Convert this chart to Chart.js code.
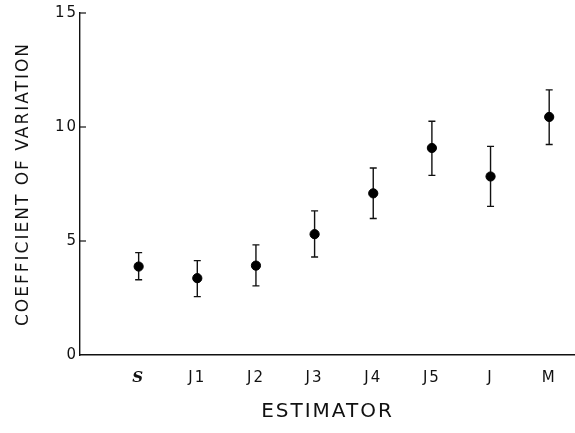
<!DOCTYPE html>
<html>
<head>
<meta charset="utf-8">
<script src="https://cdn.jsdelivr.net/npm/chart.js@4"></script>
<style>
  body { margin: 0; background: #fff; }
  #wrap { width: 575px; height: 433px; }
</style>
</head>
<body>
<div id="wrap"><canvas id="chart" width="575" height="433"></canvas></div>
<script>
// estimators along the x axis
const estimators = ['S', 'J1', 'J2', 'J3', 'J4', 'J5', 'J', 'M'];
// coefficient of variation (dot) and the ends of its bar
const cv    = [3.88, 3.37, 3.92, 5.30, 7.09, 9.08, 7.83, 10.44];
const upper = [4.49, 4.14, 4.83, 6.32, 8.20, 10.25, 9.15, 11.63];
const lower = [3.30, 2.56, 3.03, 4.30, 5.99, 7.88, 6.52, 9.23];
const yTicks = [0, 5, 10, 15];

const points = estimators.map((name, i) => ({ x: i + 1, y: cv[i] }));

// error bars + inward tick marks on the y axis
const extras = {
  id: 'extras',
  beforeDraw(chart) {
    chart.ctx.letterSpacing = '2px';
  },
  beforeDatasetsDraw(chart) {
    const { ctx, scales: { x, y } } = chart;
    ctx.save();
    ctx.strokeStyle = '#111';
    ctx.lineWidth = 1.4;
    estimators.forEach((name, i) => {
      const px = x.getPixelForValue(i + 1);
      const top = y.getPixelForValue(upper[i]);
      const bot = y.getPixelForValue(lower[i]);
      ctx.beginPath();
      ctx.moveTo(px, top); ctx.lineTo(px, bot);
      ctx.moveTo(px - 3.5, top); ctx.lineTo(px + 3.5, top);
      ctx.moveTo(px - 3.5, bot); ctx.lineTo(px + 3.5, bot);
      ctx.stroke();
    });
    ctx.restore();
  },
  afterDraw(chart) {
    const { ctx, scales: { y }, chartArea } = chart;
    ctx.save();
    ctx.strokeStyle = '#111';
    ctx.lineWidth = 1.2;
    yTicks.slice(1).forEach(v => {
      const py = y.getPixelForValue(v);
      ctx.beginPath();
      ctx.moveTo(chartArea.left, py);
      ctx.lineTo(chartArea.left + 6, py);
      ctx.stroke();
    });
    ctx.restore();
    ctx.letterSpacing = '0px';
  }
};

new Chart(document.querySelector('#chart'), {
  type: 'scatter',
  data: {
    datasets: [{
      data: points,
      backgroundColor: '#000',
      borderColor: '#000',
      pointRadius: 4.6,
      pointHoverRadius: 4.6
    }]
  },
  options: {
    responsive: false,
    animation: false,
    layout: { autoPadding: false, padding: { top: 13, right: 0, left: 0, bottom: 0 } },
    plugins: {
      legend: { display: false },
      tooltip: { enabled: false }
    },
    scales: {
      x: {
        type: 'linear',
        min: 0,
        max: 8.44,
        afterFit: (scale) => {
          scale.height = 78;
          scale.paddingLeft = 0;
          scale.paddingRight = 0;
        },
        grid: { display: false, drawTicks: false },
        border: { display: true, color: '#111', width: 1.4 },
        ticks: {
          stepSize: 1,
          includeBounds: false,
          autoSkip: false,
          maxRotation: 0,
          padding: 14,
          color: '#111',
          font: (c) => c.tick && c.tick.value === 1
            ? { family: 'DejaVu Serif', size: 15, style: 'italic', weight: 'bold' }
            : { family: 'DejaVu Sans', size: 15 },
          callback: (v) => Number.isInteger(v) && v >= 1 && v <= estimators.length ? estimators[v - 1] : ''
        },
        title: {
          display: true,
          text: 'ESTIMATOR',
          color: '#111',
          font: { family: 'DejaVu Sans', size: 20 },
          padding: { top: 0, bottom: 9 }
        }
      },
      y: {
        min: 0,
        max: 15,
        afterFit: (scale) => { scale.width = 80; },
        afterBuildTicks: (scale) => { scale.ticks = yTicks.map(v => ({ value: v })); },
        grid: { display: false, drawTicks: false },
        border: { display: true, color: '#111', width: 1.4 },
        ticks: {
          padding: 2,
          color: '#111',
          font: { family: 'DejaVu Sans', size: 15 }
        },
        title: {
          display: true,
          text: 'COEFFICIENT OF VARIATION',
          color: '#111',
          font: { family: 'DejaVu Sans', size: 17 },
          padding: { top: 13, bottom: 0 }
        }
      }
    }
  },
  plugins: [extras]
});
</script>
</body>
</html>
